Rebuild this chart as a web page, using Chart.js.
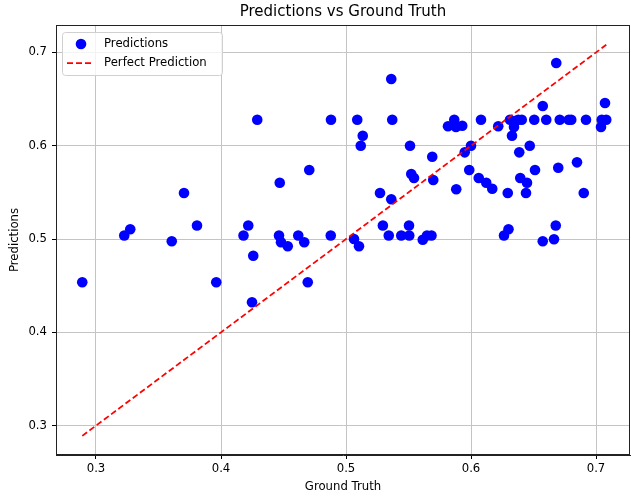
<!DOCTYPE html>
<html>
<head>
<meta charset="utf-8">
<script src="https://cdn.jsdelivr.net/npm/chart.js@4.4.0/dist/chart.umd.min.js"></script>
<style>
body{margin:0;background:#fff;}
</style>
</head>
<body>
<canvas id="grafica" width="631" height="498"></canvas>
<script>
// valores
var groundTruth = [0.289, 0.3226, 0.3274, 0.3606, 0.3704, 0.3808, 0.3962, 0.418, 0.4218, 0.4258,
  0.4248, 0.429, 0.4464, 0.447, 0.448, 0.4534, 0.4618, 0.4666, 0.4694, 0.4706,
  0.4878, 0.488, 0.5064, 0.509, 0.5104, 0.5118, 0.5134, 0.5272, 0.5295, 0.5342,
  0.5362, 0.5362, 0.537, 0.5442, 0.5504, 0.5506, 0.5512, 0.5522, 0.5544, 0.5614,
  0.5648, 0.5684, 0.569, 0.5698, 0.5816, 0.5866, 0.588, 0.5882, 0.593, 0.595,
  0.5986, 0.6, 0.6062, 0.608, 0.6122, 0.617, 0.6218, 0.6264, 0.63, 0.6294,
  0.6312, 0.6328, 0.6344, 0.6352, 0.6378, 0.6386, 0.6394, 0.6406, 0.644, 0.6448,
  0.647, 0.6506, 0.6512, 0.6574, 0.6574, 0.6602, 0.6664, 0.6678, 0.6682, 0.6698,
  0.671, 0.6782, 0.6802, 0.6848, 0.6902, 0.692, 0.704, 0.7046, 0.7072, 0.7082];
var predictions = [0.4536, 0.5038, 0.5105, 0.4976, 0.5493, 0.5145, 0.4536, 0.5038, 0.5145, 0.4821,
  0.4322, 0.6279, 0.5038, 0.5603, 0.4965, 0.4922, 0.5038, 0.4965, 0.4536, 0.574,
  0.5038, 0.6279, 0.5, 0.6279, 0.4922, 0.6, 0.6107, 0.5493, 0.5145, 0.5038,
  0.5426, 0.6715, 0.6279, 0.5038, 0.5145, 0.5038, 0.6, 0.5697, 0.5654, 0.4992,
  0.5038, 0.5038, 0.5882, 0.5632, 0.6208, 0.6279, 0.62, 0.5533, 0.6214, 0.5929,
  0.574, 0.6, 0.5654, 0.6279, 0.5603, 0.5539, 0.6208, 0.5038, 0.5105, 0.5493,
  0.6279, 0.6107, 0.62, 0.6265, 0.6279, 0.5929, 0.5654, 0.6279, 0.5493, 0.5603,
  0.6, 0.6279, 0.574, 0.6425, 0.4976, 0.6279, 0.4998, 0.5145, 0.6886, 0.5764,
  0.6279, 0.6279, 0.6279, 0.5822, 0.5493, 0.6279, 0.62, 0.6279, 0.6458, 0.6279];
var lineEnds = [0.289, 0.7082];
var xTicks = [0.3, 0.4, 0.5, 0.6, 0.7];
var yTicks = [0.3, 0.4, 0.5, 0.6, 0.7];

var fuente = "'DejaVu Sans', sans-serif";

var puntos = groundTruth.map(function(v, i){ return {x: v, y: predictions[i]}; });
var linea = lineEnds.map(function(v){ return {x: v, y: v}; });

// marco, titulo y leyenda dentro del area
var extras = {
  id: 'extras',
  afterDraw: function(chart){
    var ctx = chart.ctx;
    var a = chart.chartArea;
    ctx.save();
    ctx.strokeStyle = '#222';
    ctx.lineWidth = 1;
    ctx.strokeRect(a.left + 0.5, a.top + 0.5, a.right - a.left - 1, a.bottom - a.top - 1);

    ctx.fillStyle = '#000';
    ctx.font = '15px ' + fuente;
    ctx.textAlign = 'center';
    ctx.textBaseline = 'middle';
    ctx.fillText('Predictions vs Ground Truth', (a.left + a.right) / 2, 12);

    // leyenda
    var bx = a.left + 6, by = a.top + 7, bw = 160, bh = 43;
    ctx.beginPath();
    ctx.roundRect(bx + 0.5, by + 0.5, bw, bh, 3);
    ctx.fillStyle = 'rgba(255,255,255,0.8)';
    ctx.fill();
    ctx.strokeStyle = '#d0d0d0';
    ctx.stroke();

    var ds = chart.data.datasets;
    ctx.fillStyle = ds[0].backgroundColor;
    ctx.beginPath();
    ctx.arc(bx + 19, by + 12, 5.3, 0, Math.PI * 2);
    ctx.fill();

    ctx.strokeStyle = ds[1].borderColor;
    ctx.lineWidth = 1.75;
    ctx.setLineDash([6, 3]);
    ctx.beginPath();
    ctx.moveTo(bx + 5, by + 31);
    ctx.lineTo(bx + 32, by + 31);
    ctx.stroke();
    ctx.setLineDash([]);

    ctx.fillStyle = '#000';
    ctx.font = '11.7px ' + fuente;
    ctx.textAlign = 'left';
    ctx.fillText(ds[0].label, bx + 42, by + 12);
    ctx.fillText(ds[1].label, bx + 42, by + 31);
    ctx.restore();
  }
};

var miCanvas = document.getElementById('grafica').getContext('2d');
var chart = new Chart(miCanvas, {
  type: 'scatter',
  data: {
    datasets: [
      {
        label: 'Predictions',
        data: puntos,
        backgroundColor: '#0000ff',
        borderColor: '#0000ff',
        borderWidth: 0,
        pointRadius: 5.3,
        order: 1
      },
      {
        label: 'Perfect Prediction',
        data: linea,
        showLine: true,
        borderColor: '#ff0000',
        borderWidth: 1.75,
        borderDash: [6, 3],
        pointRadius: 0,
        fill: false,
        order: 0
      }
    ]
  },
  options: {
    responsive: false,
    animation: false,
    devicePixelRatio: 1,
    layout: { autoPadding: false, padding: { top: 25, right: 1, left: 0, bottom: 0 } },
    plugins: {
      legend: { display: false },
      title: { display: false },
      tooltip: { enabled: false }
    },
    scales: {
      x: {
        type: 'linear',
        min: 0.268,
        max: 0.7272,
        afterFit: function(s){ s.height = 43; s.paddingLeft = 0; s.paddingRight = 0; },
        afterBuildTicks: function(s){ s.ticks = xTicks.map(function(v){ return {value: v}; }); },
        ticks: {
          color: '#000',
          padding: 3,
          font: { family: fuente, size: 11.7 },
          callback: function(v){ return v.toFixed(1); }
        },
        grid: { color: '#c4c4c4', lineWidth: 1, tickLength: 4, tickColor: '#000' },
        border: { display: true, color: '#222', width: 1 },
        title: {
          display: true,
          text: 'Ground Truth',
          color: '#000',
          font: { family: fuente, size: 11.7 },
          padding: { top: 4, bottom: 4 }
        }
      },
      y: {
        type: 'linear',
        min: 0.2685,
        max: 0.7294,
        afterFit: function(s){ s.width = 56; s.paddingTop = 0; s.paddingBottom = 0; },
        afterBuildTicks: function(s){ s.ticks = yTicks.map(function(v){ return {value: v}; }); },
        ticks: {
          color: '#000',
          padding: 5,
          font: { family: fuente, size: 11.7 },
          callback: function(v){ return v.toFixed(1); }
        },
        grid: { color: '#c4c4c4', lineWidth: 1, tickLength: 4, tickColor: '#000' },
        border: { display: true, color: '#222', width: 1 },
        title: {
          display: true,
          text: 'Predictions',
          color: '#000',
          font: { family: fuente, size: 11.7 },
          padding: { top: 8, bottom: 4 }
        }
      }
    }
  },
  plugins: [extras]
});
</script>
</body>
</html>
